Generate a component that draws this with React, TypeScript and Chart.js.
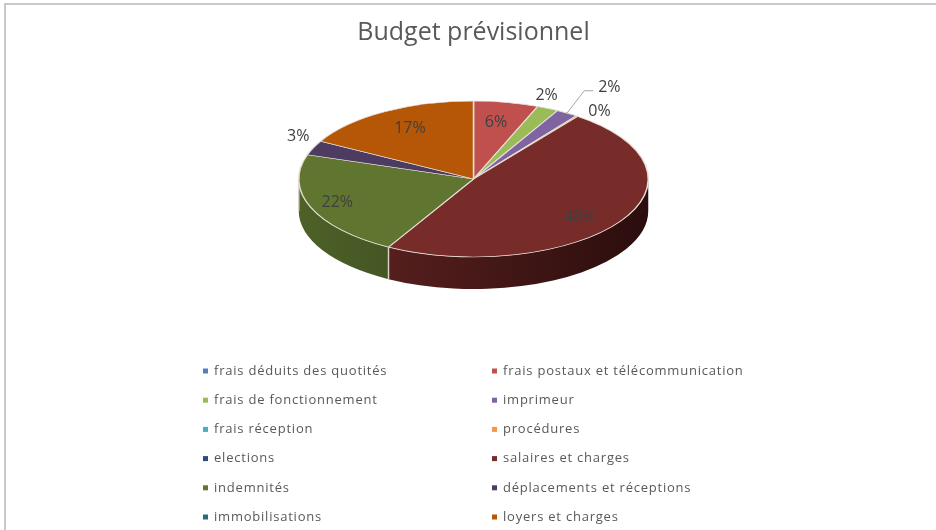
import React, { useEffect, useRef } from "react";
import { Chart, registerables } from "chart.js";

Chart.register(...registerables);

const TITLE = "Budget prévisionnel";
const categories = [
  "frais déduits des quotités",
  "frais postaux et télécommunication",
  "frais de fonctionnement",
  "imprimeur",
  "frais réception",
  "procédures",
  "elections",
  "salaires et charges",
  "indemnités",
  "déplacements et réceptions",
  "immobilisations",
  "loyers et charges",
];
const values = [0, 6, 2, 2, 0, 0.2, 0, 48, 22, 3, 0, 17];
const colors = [
  "#4F81BD", "#C0504D", "#9BBB59", "#8064A2", "#4BACC6", "#F79646",
  "#2C4D75", "#772C2A", "#5F7530", "#4D3B62", "#276A7C", "#B65708",
];
const wallLeft = ["#3A5F8C", "#8E3B39", "#738A42", "#5F4A78", "#377F92", "#B66F34", "#213A58", "#551F1D", "#4E6127", "#3A2C4A", "#1D4F5C", "#864006"];
const wallRight = ["#2A4566", "#682B29", "#556632", "#463658", "#285D6B", "#855126", "#182A40", "#2B0D0D", "#445624", "#2A2036", "#153A43", "#622F04"];

// label placement: radial factor about the slice's mid-angle, plus a nudge
const labelRadial: Record<number, number> = { 1: 0.75, 2: 1.16, 3: 1.4, 5: 1.15, 7: 0.8, 8: 0.8, 9: 1.1, 11: 0.75 };
const labelNudge: Record<number, number[]> = { 1: [-2, 1], 2: [-13, -2], 3: [5, 1], 5: [7, 5], 7: [-11, 5], 8: [-6, 1], 9: [1, -8], 11: [3, 0] };
const leaderIndex = 3;

const W = 936;
const H = 530;
const CX = 473.5;
const CY = 179;
const RY = 78;
const DEPTH = 32;
const FONT = "'Open Sans', sans-serif";
const TEXT = "#595959";

const pie3d = {
  id: "pie3d",
  beforeDraw(chart: any) {
    const { ctx } = chart;
    ctx.save();
    ctx.fillStyle = "#FFFFFF";
    ctx.fillRect(0, 0, W, H);
    ctx.fillStyle = "#C9C9C9";
    ctx.fillRect(4, 3, W - 4, 2);
    ctx.fillRect(4, 3, 2, H - 3);
    ctx.restore();
  },
  beforeDatasetsDraw(chart: any) {
    const { ctx } = chart;
    const arcs = chart.getDatasetMeta(0).data;
    const rx = arcs[0].outerRadius;
    ctx.save();
    for (let i = arcs.length - 1; i >= 0; i--) {
      const a = arcs[i];
      const s = Math.max(a.startAngle, 0);
      const e = Math.min(a.endAngle, Math.PI);
      if (e <= s) continue;
      ctx.beginPath();
      ctx.ellipse(CX, CY, rx, RY, 0, s, e);
      ctx.ellipse(CX, CY + DEPTH, rx, RY, 0, e, s, true);
      ctx.closePath();
      const x0 = CX + rx * Math.cos(e);
      const x1 = CX + rx * Math.cos(s);
      const g = ctx.createLinearGradient(x0, 0, x1, 0);
      g.addColorStop(0, wallLeft[i]);
      g.addColorStop(1, wallRight[i]);
      ctx.fillStyle = g;
      ctx.fill();
      ctx.beginPath();
      ctx.moveTo(x0, CY + RY * Math.sin(e));
      ctx.lineTo(x0, CY + RY * Math.sin(e) + DEPTH);
      ctx.strokeStyle = "#D9CFC8";
      ctx.lineWidth = 1.5;
      ctx.stroke();
    }
    ctx.restore();
    ctx.save();
    const k = RY / rx;
    ctx.translate(CX, CY);
    ctx.scale(1, k);
    ctx.translate(-arcs[0].x, -arcs[0].y);
  },
  afterDatasetsDraw(chart: any) {
    const { ctx } = chart;
    ctx.restore();
    const arcs = chart.getDatasetMeta(0).data;
    const rx = arcs[0].outerRadius;
    const total = values.reduce((p, v) => p + v, 0);
    ctx.save();
    ctx.font = `16px ${FONT}`;
    ctx.textAlign = "center";
    ctx.textBaseline = "middle";
    arcs.forEach((a: any, i: number) => {
      if (!values[i]) return;
      const mid = (a.startAngle + a.endAngle) / 2;
      const f = labelRadial[i];
      const [nx, ny] = labelNudge[i];
      const x = CX + rx * f * Math.cos(mid) + nx;
      const y = CY + RY * f * Math.sin(mid) + ny;
      if (i === leaderIndex) {
        ctx.beginPath();
        ctx.moveTo(CX + rx * Math.cos(mid), CY + RY * Math.sin(mid));
        ctx.lineTo(x - 25, y + 3);
        ctx.lineTo(x - 16, y + 3);
        ctx.strokeStyle = "#A6A6A6";
        ctx.lineWidth = 1;
        ctx.stroke();
      }
      ctx.fillStyle = "#404040";
      ctx.fillText(`${Math.round((values[i] / total) * 100)}%`, x, y);
    });
    ctx.restore();
  },
  afterDraw(chart: any) {
    const { ctx } = chart;
    ctx.save();
    ctx.font = `13px ${FONT}`;
    ctx.textAlign = "left";
    ctx.textBaseline = "middle";
    (ctx as any).letterSpacing = "0.78px";
    chart.data.labels.forEach((label: string, i: number) => {
      const right = i % 2 === 1;
      const x = right ? 492 : 203;
      const y = 371 + Math.floor(i / 2) * 29.2;
      ctx.fillStyle = colors[i];
      ctx.fillRect(x, y - 2.5, 5, 5);
      ctx.fillStyle = TEXT;
      ctx.fillText(label, right ? x + 11 : x + 11, y);
    });
    ctx.restore();
  },
};

export default function App() {
  const ref = useRef<HTMLCanvasElement>(null);
  useEffect(() => {
    const chart = new Chart(ref.current!, {
      type: "pie",
      data: {
        labels: categories,
        datasets: [
          {
            data: values,
            backgroundColor: colors,
            borderColor: "#E6DED6",
            borderWidth: 1.5,
          },
        ],
      },
      options: {
        responsive: false,
        animation: false,
        devicePixelRatio: 1,
        layout: { padding: { left: 298, right: 287, top: 18, bottom: 40 } },
        plugins: {
          legend: { display: false },
          tooltip: { enabled: false },
          title: {
            display: true,
            text: TITLE,
            color: TEXT,
            font: { family: FONT, size: 25, weight: "normal" },
            padding: { top: 0, bottom: 0 },
          },
        },
      },
      plugins: [pie3d],
    } as any);
    return () => chart.destroy();
  }, []);
  return (
    <canvas
      ref={ref}
      width={W}
      height={H}
      style={{ position: "fixed", left: 0, top: 0, width: W, height: H, display: "block" }}
    />
  );
}
